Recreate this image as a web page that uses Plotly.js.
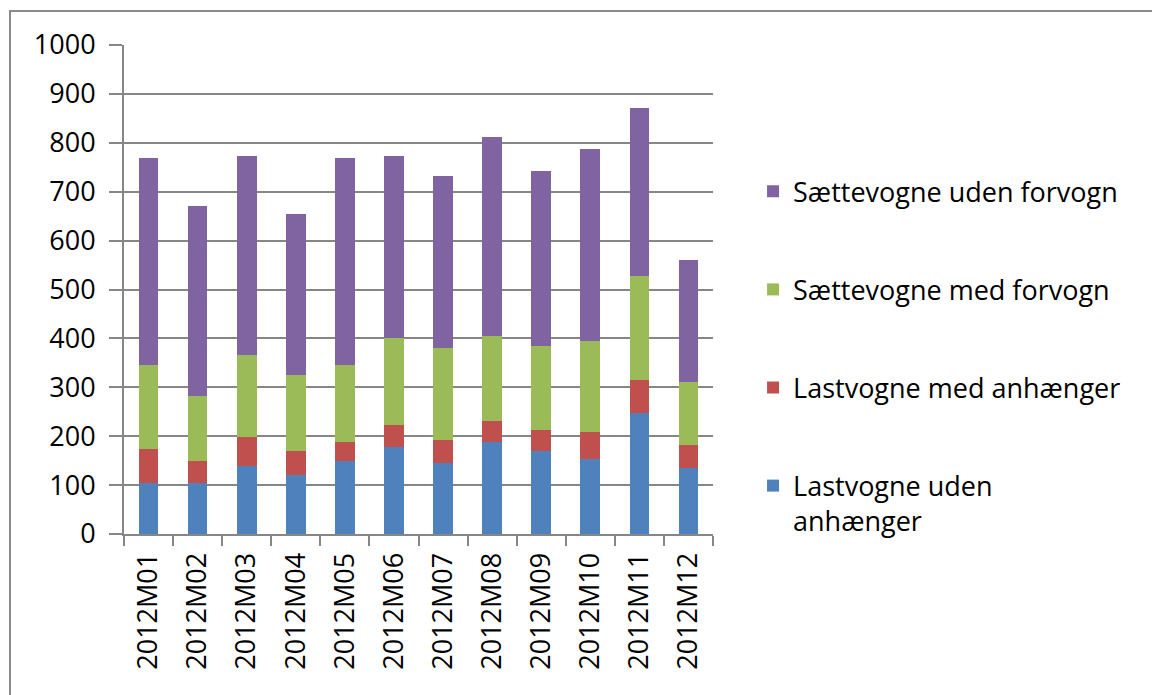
<!DOCTYPE html>
<html>
<head>
<meta charset="utf-8">
<script src="https://cdn.plot.ly/plotly-3.0.1.min.js"></script>
<style>
  html, body { margin:0; padding:0; width:1152px; height:695px; overflow:hidden; background:#fff; }
  #frame { position:absolute; left:9px; top:10px; width:1200px; height:800px; border:2px solid #8a8a8a; box-sizing:border-box; pointer-events:none; }
  #chart { position:absolute; left:0; top:0; width:1152px; height:695px; }
</style>
</head>
<body>
<div id="chart"></div>
<div id="frame"></div>
<script>
const months = ["2012M01","2012M02","2012M03","2012M04","2012M05","2012M06","2012M07","2012M08","2012M09","2012M10","2012M11","2012M12"];
const lastUdenAnh = [105,105,140,120,149,178,145,189,169,154,247,134];
const lastMedAnh  = [69,44,58,49,40,45,48,43,44,54,68,49];
const saetMedForv = [172,134,168,157,157,177,187,173,172,187,212,128];
const saetUdenForv= [423,387,407,329,422,373,353,407,358,392,344,250];

const seriesNames = ["Lastvogne uden<br>anhænger","Lastvogne med anhænger","Sættevogne med forvogn","Sættevogne uden forvogn"];
const seriesData = [lastUdenAnh, lastMedAnh, saetMedForv, saetUdenForv];
const seriesColors = ["#4F81BD","#C0504D","#9BBB59","#8064A2"];

const traces = seriesData.map((d,i)=>({
  type:'bar', x:months, y:d, name:seriesNames[i], legendgroup:'g'+i, legendrank:100-i,
  marker:{color:seriesColors[i], line:{width:0}}
}));

const font = "'Open Sans', sans-serif";
const layout = {
  width:1152, height:695,
  barmode:'stack', bargap:0.6,
  margin:{l:124, r:439, t:45, b:161},
  paper_bgcolor:'#fff', plot_bgcolor:'#fff',
  showlegend:true,
  legend:{x:1.068, xanchor:'left', y:0.75, yanchor:'top', traceorder:'grouped',
          tracegroupgap:60, valign:'top', font:{family:font, size:27, color:'#000'}, bgcolor:'rgba(0,0,0,0)'},
  xaxis:{type:'category', tickangle:-90, tickson:'boundaries', ticks:'outside', ticklen:10, tickcolor:'#868686', tickwidth:2,
         showline:true, linecolor:'#868686', linewidth:2, showgrid:false, ticklabelstandoff:6,
         tickfont:{family:font, size:27, color:'#000'}},
  yaxis:{range:[0,1000], dtick:100, tick0:0, ticks:'outside', ticklen:13, tickcolor:'#868686', tickwidth:2,
         showline:true, linecolor:'#868686', linewidth:2, showgrid:true, gridcolor:'#868686', gridwidth:2,
         zeroline:false, ticklabelstandoff:8, tickfont:{family:font, size:27, color:'#000'}}
};
Plotly.newPlot('chart', traces, layout, {staticPlot:true});
</script>
</body>
</html>
